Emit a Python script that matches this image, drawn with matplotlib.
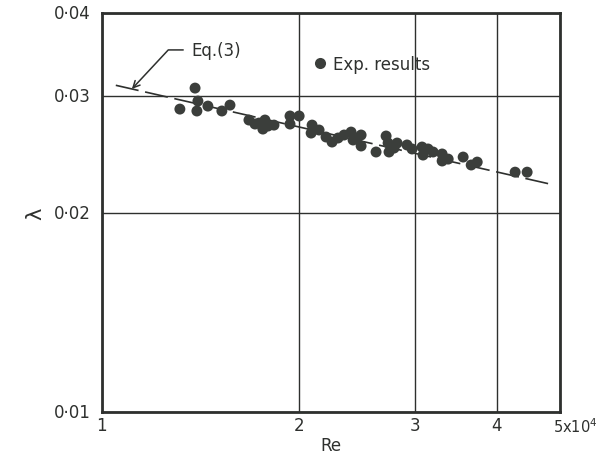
import numpy as np
import matplotlib
matplotlib.use("Agg")
import matplotlib.pyplot as plt
from matplotlib.lines import Line2D
import matplotlib.transforms as mtransforms

# Experimental data: Re in units of 10^4, friction factor lambda
re_exp = [1.315, 1.387, 1.401, 1.396, 1.451, 1.524, 1.568, 1.676, 1.712, 1.736,
          1.773, 1.760, 1.792, 1.830, 1.936, 1.999, 1.936, 2.092, 2.085, 2.144,
          2.197, 2.244, 2.292, 2.341, 2.399, 2.416, 2.450, 2.485, 2.485, 2.619,
          2.713, 2.732, 2.741, 2.790, 2.820, 2.920, 2.972, 3.078, 3.089, 3.144,
          3.200, 3.303, 3.303, 3.374, 3.556, 3.658, 3.736, 4.268, 4.452]
lam_exp = [0.02866, 0.03083, 0.02947, 0.02847, 0.02896, 0.02847, 0.02906, 0.02759, 0.02721, 0.02730,
           0.02759, 0.02674, 0.02702, 0.02711, 0.02798, 0.02798, 0.02721, 0.02711, 0.02637, 0.02665,
           0.02601, 0.02556, 0.02592, 0.02619, 0.02646, 0.02574, 0.02592, 0.02619, 0.02521, 0.02469,
           0.02610, 0.02547, 0.02469, 0.02503, 0.02547, 0.02530, 0.02495, 0.02512, 0.02443, 0.02495,
           0.02469, 0.02452, 0.02393, 0.02409, 0.02426, 0.02360, 0.02384, 0.02302, 0.02302]

# Eq.(3): lambda = a * Re^b
eq_a = 0.25
eq_b = -0.225
eq_re_range = [1.05, 4.88]  # x 10^4

x_ticks = [1, 2, 3, 4, 5]
x_ticklabels = ["1", "2", "3", "4", "5x10$^4$"]
y_ticks = [0.01, 0.02, 0.03, 0.04]
y_ticklabels = ["0·01", "0·02", "0·03", "0·04"]

ink = "#2e302e"
dot = "#3b3e3b"

plt.rcParams["font.family"] = ["DejaVu Sans"]

fig = plt.figure(figsize=(6.03, 4.56), dpi=100)
ax = fig.add_axes([0.169, 0.094, 0.760, 0.875])
ax.set_xscale("log")
ax.set_yscale("log")
ax.set_xlim(1, 5)
ax.set_ylim(0.01, 0.04)

ax.set_xticks(x_ticks)
ax.set_xticklabels(x_ticklabels)
ax.set_yticks(y_ticks)
ax.set_yticklabels(y_ticklabels)
ax.minorticks_off()
ax.tick_params(length=0, labelsize=12, colors=ink)
ax.tick_params(axis="x", pad=3)
ax.tick_params(axis="y", pad=8)
for lbl in ax.get_yticklabels():
    lbl.set_verticalalignment("center")
last = ax.get_xticklabels()[-1]
last.set_horizontalalignment("left")
last.set_fontsize(10.5)
last.set_transform(last.get_transform() +
                   mtransforms.ScaledTranslation(-7 / 100, 0, fig.dpi_scale_trans))

ax.grid(True, color=ink, linewidth=1.0)
ax.set_axisbelow(True)
for s in ax.spines.values():
    s.set_linewidth(2.0)
    s.set_color(ink)

# Eq.(3) line
xr = np.geomspace(eq_re_range[0], eq_re_range[1], 100)
yr = eq_a * (xr * 1e4) ** eq_b
ax.plot(xr, yr, color=ink, linewidth=1.2, linestyle=(0, (14, 4)), zorder=3)

# experimental points
ax.scatter(re_exp, lam_exp, s=62, color=dot, edgecolors="none", zorder=4)

# annotation for Eq.(3)
x_arrow = 1.111
y_arrow = eq_a * (x_arrow * 1e4) ** eq_b
ax.annotate("Eq.(3)", xy=(x_arrow, y_arrow), xytext=(1.37, 0.0352),
            textcoords="data", ha="left", va="center", fontsize=12, color=ink,
            arrowprops=dict(arrowstyle="->", color=ink, lw=1.1,
                            connectionstyle="angle,angleA=0,angleB=47,rad=0",
                            shrinkA=4, shrinkB=0))

# legend
handle = Line2D([], [], linestyle="none", marker="o", markersize=8,
                markerfacecolor=dot, markeredgecolor="none")
ax.legend([handle], ["Exp. results"], loc="center left",
          bbox_to_anchor=(0.428, 0.872), frameon=False, fontsize=12,
          handlelength=0.8, handletextpad=0.4, labelcolor=ink)

ax.set_xlabel("Re", fontsize=12, color=ink, labelpad=1)
ax.set_ylabel("λ", fontsize=15, color=ink, labelpad=6)

fig.savefig("out.png", dpi=100)
